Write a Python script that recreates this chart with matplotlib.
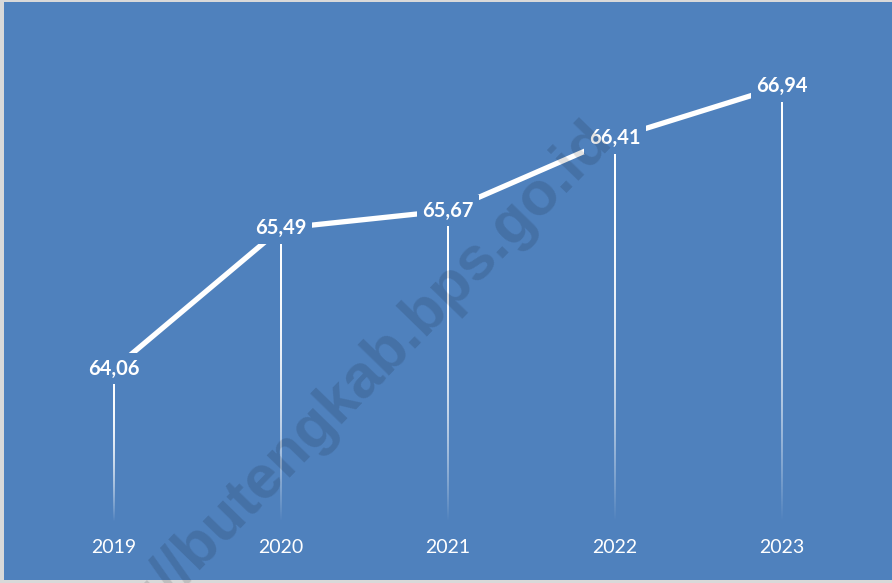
import numpy as np
import matplotlib
matplotlib.use("Agg")
import matplotlib.pyplot as plt
from matplotlib.patches import Rectangle

years = ["2019", "2020", "2021", "2022", "2023"]
values = [64.06, 65.49, 65.67, 66.41, 66.94]
labels = ["64,06", "65,49", "65,67", "66,41", "66,94"]
watermark = "http://butengkab.bps.go.id"

BG = "#4F81BD"
W, H = 892, 583

fig = plt.figure(figsize=(W / 100, H / 100), dpi=100)
fig.patch.set_facecolor("#D9D9D9")
fig.add_artist(Rectangle((4 / W, 3 / H), 1 - 4 / W, 1 - 5 / H,
                         transform=fig.transFigure, facecolor=BG,
                         edgecolor="none", zorder=-2))

ax = fig.add_axes([30.5 / W, 1 - 522 / H, 835 / W, 491 / H])
ax.set_facecolor("none")
for s in ax.spines.values():
    s.set_visible(False)
ymin, ymax = 62.5, 67.5
x = np.arange(len(years))

# drop lines with fading gradient (white -> transparent), drawn as thin images
fade = np.linspace(0, 1, 256)
alpha = np.clip(1 - fade ** 2.5, 0, 1)
rgba = np.ones((256, 1, 4))
rgba[:, 0, 3] = alpha
dx = 1.0 / 835 * 5  # ~1 px half-width in data units
for xi, v in zip(x, values):
    ax.imshow(rgba, extent=(xi - dx, xi + dx, ymin, v), origin="upper",
              aspect="auto", interpolation="bilinear", zorder=1)
ax.set_xlim(-0.5, len(years) - 0.5)
ax.set_ylim(ymin, ymax)

ax.plot(x, values, color="white", lw=3.8, solid_capstyle="butt", zorder=2)

for xi, v, lab in zip(x, values, labels):
    ax.text(xi, v, lab, ha="center", va="center", color="white",
            fontsize=14.5, fontweight="bold", family="Lato", zorder=3,
            bbox=dict(facecolor=BG, edgecolor="none", pad=4))

ax.set_yticks([])
ax.set_xticks(x)
ax.set_xticklabels(years, color="white", fontsize=14, family="Lato")
ax.tick_params(axis="x", length=0, pad=12)

fig.text(335 / W, 1 - 405 / H, watermark, rotation=45.8, rotation_mode="anchor",
         ha="center", va="center", fontsize=44, fontweight="bold",
         family="Liberation Sans", color="black", alpha=0.12, zorder=5)

fig.savefig("out.png", dpi=100, facecolor=fig.get_facecolor())
